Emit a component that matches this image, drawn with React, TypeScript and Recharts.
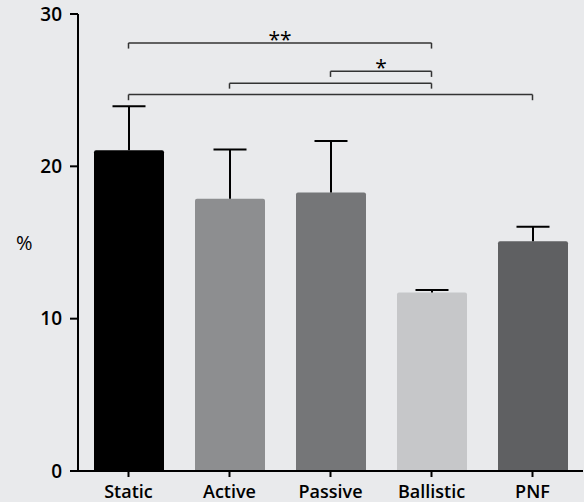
import React from 'react';
import { ComposedChart, Bar, Cell, XAxis, YAxis, ReferenceLine } from 'recharts';

const categories = ['Static', 'Active', 'Passive', 'Ballistic', 'PNF'];
const means = [21.05, 17.87, 18.29, 11.71, 15.09];
const sds = [2.9, 3.23, 3.38, 0.18, 0.94];
const yTicks = [0, 10, 20, 30];
const barColors = ['#000000', '#8d8e90', '#757678', '#c6c7c9', '#5f6062'];

// significance brackets: from / to category, line height, drop length, stars
const brackets = [
  { from: 'Static', to: 'Ballistic', y: 28.1, drop: 0.37, label: '**' },
  { from: 'Passive', to: 'Ballistic', y: 26.24, drop: 0.37, label: '*' },
  { from: 'Active', to: 'Ballistic', y: 25.45, drop: 0.35, label: '' },
  { from: 'Static', to: 'PNF', y: 24.71, drop: 0.37, label: '' },
];

const data = categories.map((name, i) => ({ name, mean: means[i], sd: sds[i] }));

const FONT = "'Open Sans', sans-serif";
const BG = '#e9eaec';

// draws the upper whisker in the stacked sd segment
const Whisker = (props: any) => {
  const { x, y, width, height } = props;
  const cx = x + width / 2;
  return (
    <g stroke="#000" strokeWidth={2}>
      <line x1={cx} y1={y + height} x2={cx} y2={y} />
      <line x1={cx - 16.5} y1={y} x2={cx + 16.5} y2={y} />
    </g>
  );
};

export default function App() {
  return (
    <div style={{ position: 'absolute', left: 0, top: 0, width: 584, height: 502, background: BG }}>
      <ComposedChart
        width={584}
        height={502}
        data={data}
        margin={{ top: 14, right: 1, bottom: 0, left: 0 }}
        barSize={70}
      >
        <XAxis
          dataKey="name"
          height={31}
          tickSize={6}
          tickMargin={8}
          axisLine={{ stroke: '#000', strokeWidth: 2 }}
          tickLine={{ stroke: '#000', strokeWidth: 2 }}
          tick={{ fill: '#000', fontSize: 18, fontWeight: 600, fontFamily: FONT }}
        />
        <YAxis
          width={78}
          domain={[0, 30]}
          ticks={yTicks}
          tickSize={8}
          tickMargin={8}
          axisLine={{ stroke: '#000', strokeWidth: 2 }}
          tickLine={{ stroke: '#000', strokeWidth: 2 }}
          tick={{ fill: '#000', fontSize: 19, fontWeight: 600, fontFamily: FONT }}
          label={{ value: '%', position: 'insideLeft', offset: 16, fill: '#000', fontSize: 20, fontFamily: FONT }}
        />
        <Bar dataKey="mean" stackId="a" radius={[2, 2, 0, 0]} isAnimationActive={false}>
          {data.map((d, i) => (
            <Cell key={d.name} fill={barColors[i]} />
          ))}
        </Bar>
        <Bar dataKey="sd" stackId="a" fill="none" shape={<Whisker />} isAnimationActive={false} />
        {brackets.map((b, i) => (
          <React.Fragment key={i}>
            <ReferenceLine
              segment={[{ x: b.from, y: b.y }, { x: b.to, y: b.y }]}
              stroke="#333"
              strokeWidth={1.5}
              ifOverflow="visible"
              label={b.label ? { value: b.label, position: 'top', offset: -4, fill: '#000', fontSize: 21, fontFamily: FONT } : undefined}
            />
            <ReferenceLine
              segment={[{ x: b.from, y: b.y }, { x: b.from, y: b.y - b.drop }]}
              stroke="#333"
              strokeWidth={1.5}
              ifOverflow="visible"
            />
            <ReferenceLine
              segment={[{ x: b.to, y: b.y }, { x: b.to, y: b.y - b.drop }]}
              stroke="#333"
              strokeWidth={1.5}
              ifOverflow="visible"
            />
          </React.Fragment>
        ))}
      </ComposedChart>
    </div>
  );
}
